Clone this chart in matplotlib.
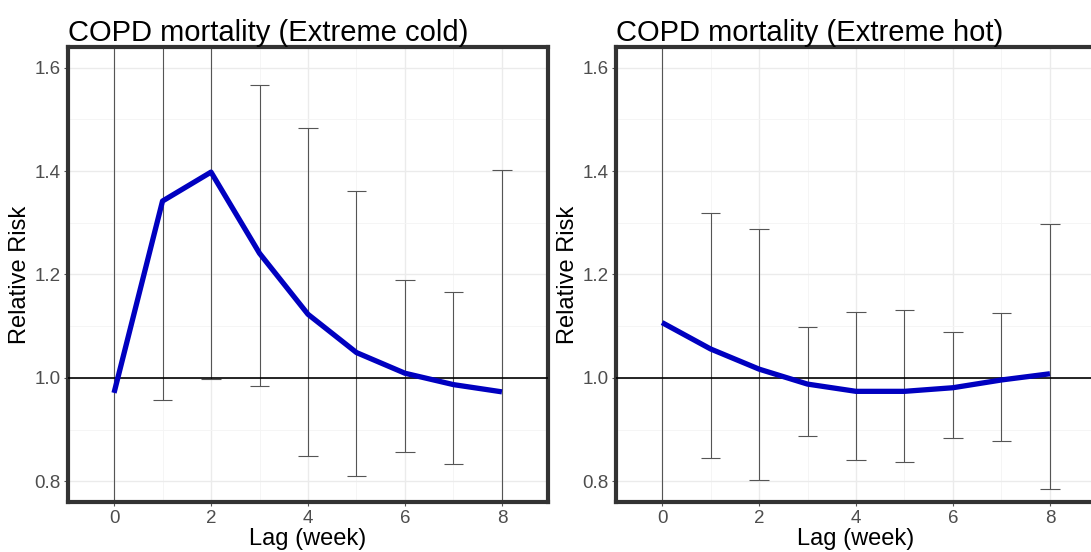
import numpy as np
import matplotlib
matplotlib.use('Agg')
from matplotlib import pyplot as plt
from matplotlib.ticker import MultipleLocator, FormatStrFormatter

plt.rcParams['font.family'] = ['Liberation Sans', 'DejaVu Sans']

lags = [0, 1, 2, 3, 4, 5, 6, 7, 8]

# extreme cold
cold_rr = [0.971, 1.342, 1.398, 1.241, 1.123, 1.049, 1.009, 0.987, 0.973]
cold_lo = [0.55, 0.958, 0.997, 0.984, 0.848, 0.810, 0.856, 0.833, 0.70]
cold_hi = [1.75, 1.85, 1.90, 1.566, 1.484, 1.361, 1.189, 1.167, 1.402]

# extreme hot
hot_rr = [1.107, 1.056, 1.017, 0.988, 0.974, 0.974, 0.981, 0.996, 1.008]
hot_lo = [0.60, 0.846, 0.802, 0.888, 0.842, 0.838, 0.883, 0.877, 0.785]
hot_hi = [1.90, 1.319, 1.287, 1.099, 1.127, 1.131, 1.089, 1.125, 1.298]

titles = ['COPD mortality (Extreme cold)', 'COPD mortality (Extreme hot)']

CAP = 0.2


def panel(ax, rr, lo, hi, title):
    x = np.array(lags)
    ax.vlines(x, lo, hi, color='#555555', lw=0.8, zorder=2)
    ax.hlines(lo, x - CAP, x + CAP, color='#555555', lw=0.8, zorder=2)
    ax.hlines(hi, x - CAP, x + CAP, color='#555555', lw=0.8, zorder=2)
    ax.axhline(1.0, color='black', lw=1.2, zorder=3)
    ax.plot(x, rr, color='#0000C0', lw=3.8, solid_capstyle='butt', zorder=4)

    ax.set_xlim(-0.95, 8.95)
    ax.set_ylim(0.76, 1.64)
    ax.xaxis.set_major_locator(MultipleLocator(2))
    ax.xaxis.set_minor_locator(MultipleLocator(1))
    ax.yaxis.set_major_locator(MultipleLocator(0.2))
    ax.yaxis.set_minor_locator(MultipleLocator(0.1))
    ax.yaxis.set_major_formatter(FormatStrFormatter('%.1f'))
    ax.grid(which='major', color='#EBEBEB', lw=1.0, zorder=0)
    ax.grid(which='minor', color='#F4F4F4', lw=0.6, zorder=0)
    ax.set_axisbelow(True)
    ax.tick_params(which='major', length=3, width=0.8, color='#555555',
                   labelcolor='#4D4D4D', labelsize=13.5, pad=2.5)
    ax.tick_params(which='minor', length=0)
    for s in ax.spines.values():
        s.set_linewidth(3)
        s.set_color('#333333')
    ax.set_xlabel('Lag (week)', fontsize=17, labelpad=1)
    ax.set_ylabel('Relative Risk', fontsize=17, labelpad=2)
    ax.set_title(title, loc='left', fontsize=21, pad=3)


fig = plt.figure(figsize=(10.91, 5.52), dpi=100)
ax1 = fig.add_axes([0.0623, 0.0906, 0.44, 0.8243])
ax2 = fig.add_axes([0.5646, 0.0906, 0.44, 0.8243])

panel(ax1, cold_rr, cold_lo, cold_hi, titles[0])
panel(ax2, hot_rr, hot_lo, hot_hi, titles[1])

fig.savefig('out.png', dpi=100)
